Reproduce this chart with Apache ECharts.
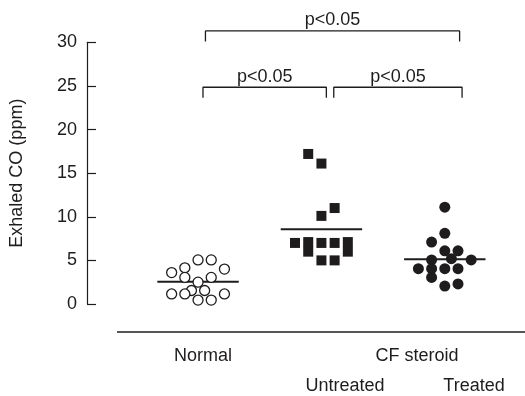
<!DOCTYPE html>
<html>
<head>
<meta charset="utf-8">
<script src="https://cdn.jsdelivr.net/npm/echarts@6/dist/echarts.min.js"></script>
<style>
  html, body { margin: 0; padding: 0; background: #fff; }
  #chart { width: 525px; height: 396px; }
</style>
</head>
<body>
<div id="chart"></div>
<script>
// group centres on the hidden x axis: Normal = 1, CF untreated = 2, CF treated = 3
const groups = ['Normal', 'Untreated', 'Treated'];
const yTicks = [0, 5, 10, 15, 20, 25, 30];

// exhaled CO (ppm) per subject, with the dot-plot column each dot sits in
const normalCO   = [5.05, 5.05, 4.15, 4.0, 3.6, 3.05, 3.05, 2.5, 1.55, 1.55, 1.15, 1.15, 1.15, 0.45, 0.45];
const normalSlot = [0, 2, -2, 4, -4, -2, 2, 0, -1, 1, -4, -2, 4, 0, 2];

const untreatedCO   = [17.2, 16.1, 11.0, 10.1, 7.0, 7.1, 6.0, 7.0, 7.0, 7.1, 6.0, 5.0, 5.0];
const untreatedSlot = [-2, 0, 2, 0, -4, -2, -2, 0, 2, 4, 4, 0, 2];

const treatedCO   = [11.1, 8.1, 7.1, 6.1, 6.1, 5.2, 5.05, 5.05, 4.05, 4.05, 4.05, 4.05, 3.05, 2.05, 2.3];
const treatedSlot = [0, 0, -2, 0, 2, 1, -2, 4, -4, -2, 0, 2, -2, 0, 2];

const means = [2.55, 8.57, 5.12];

// significance brackets: [from, to, level]
const brackets = [
  [1.06, 3.12, 31.3],
  [1.04, 2.04, 24.85],
  [2.10, 3.14, 24.85]
];
const pLabel = 'p<0.05';

const ink = '#1f1c1d';
const font = "'Liberation Sans', Arial, Helvetica, sans-serif";
const fs = 18;
const slotStep = 0.0535;
const meanHalf = 0.33;
const drop = 1.2;

function dots(g, values, slots) {
  return values.map((v, i) => [g + slots[i] * slotStep, v]);
}

const chart = echarts.init(document.getElementById('chart'));

const series = [];

means.forEach((m, i) => {
  series.push({
    type: 'line',
    data: [[i + 1 - meanHalf, m], [i + 1 + meanHalf, m]],
    symbol: 'none',
    lineStyle: { color: ink, width: 2 },
    z: 2,
    silent: true
  });
});

series.push({
  name: groups[0],
  type: 'scatter',
  data: dots(1, normalCO, normalSlot),
  symbol: 'circle',
  symbolSize: 10,
  itemStyle: { color: '#fff', borderColor: ink, borderWidth: 1.3, opacity: 1 },
  z: 3
});
series.push({
  name: groups[1],
  type: 'scatter',
  data: dots(2, untreatedCO, untreatedSlot),
  symbol: 'rect',
  symbolSize: 10,
  itemStyle: { color: ink, opacity: 1 },
  z: 3
});
series.push({
  name: groups[2],
  type: 'scatter',
  data: dots(3, treatedCO, treatedSlot),
  symbol: 'circle',
  symbolSize: 11,
  itemStyle: { color: ink, opacity: 1 },
  z: 3
});

brackets.forEach(([a, b, lvl]) => {
  series.push({
    type: 'line',
    data: [[a, lvl - drop], [a, lvl], [b, lvl], [b, lvl - drop]],
    symbol: 'none',
    clip: false,
    lineStyle: { color: ink, width: 1.3 },
    silent: true
  });
});

series.push({
  type: 'scatter',
  data: brackets.map(([a, b, lvl]) => [(a + b) / 2, lvl]),
  symbolSize: 1,
  itemStyle: { color: 'rgba(0,0,0,0)', opacity: 1 },
  clip: false,
  silent: true,
  label: {
    show: true,
    position: 'top',
    distance: 1,
    formatter: pLabel,
    color: ink,
    fontSize: fs,
    fontFamily: font
  }
});

// baseline under the dots
series.push({
  type: 'line',
  data: [[0.343, -3.21], [3.65, -3.21]],
  symbol: 'none',
  clip: false,
  lineStyle: { color: ink, width: 1.3 },
  silent: true
});

function txt(text, x, y) {
  return {
    type: 'text',
    style: { text, x, y, fill: ink, fontSize: fs, fontFamily: font, align: 'center', verticalAlign: 'middle' }
  };
}

chart.setOption({
  animation: false,
  backgroundColor: '#fff',
  grid: { left: 86, right: 0, top: 42.3, bottom: 92 },
  xAxis: { type: 'value', min: 0.1, max: 3.65, show: false },
  yAxis: {
    type: 'value',
    min: yTicks[0],
    max: yTicks[yTicks.length - 1],
    interval: 5,
    name: 'Exhaled CO (ppm)',
    nameLocation: 'middle',
    nameGap: 61,
    nameRotate: 90,
    nameTextStyle: { color: ink, fontSize: fs, fontFamily: font },
    axisLine: { show: true, lineStyle: { color: ink, width: 1.2 } },
    axisTick: { show: true, inside: true, length: 9, lineStyle: { color: ink, width: 1.2 } },
    axisLabel: { color: ink, fontSize: fs, fontFamily: font, margin: 10 },
    splitLine: { show: false }
  },
  graphic: [
    txt('Normal', 203, 356),
    txt('CF steroid', 417, 356),
    txt('Untreated', 345, 386),
    txt('Treated', 474, 386)
  ],
  series: series
});
</script>
</body>
</html>
